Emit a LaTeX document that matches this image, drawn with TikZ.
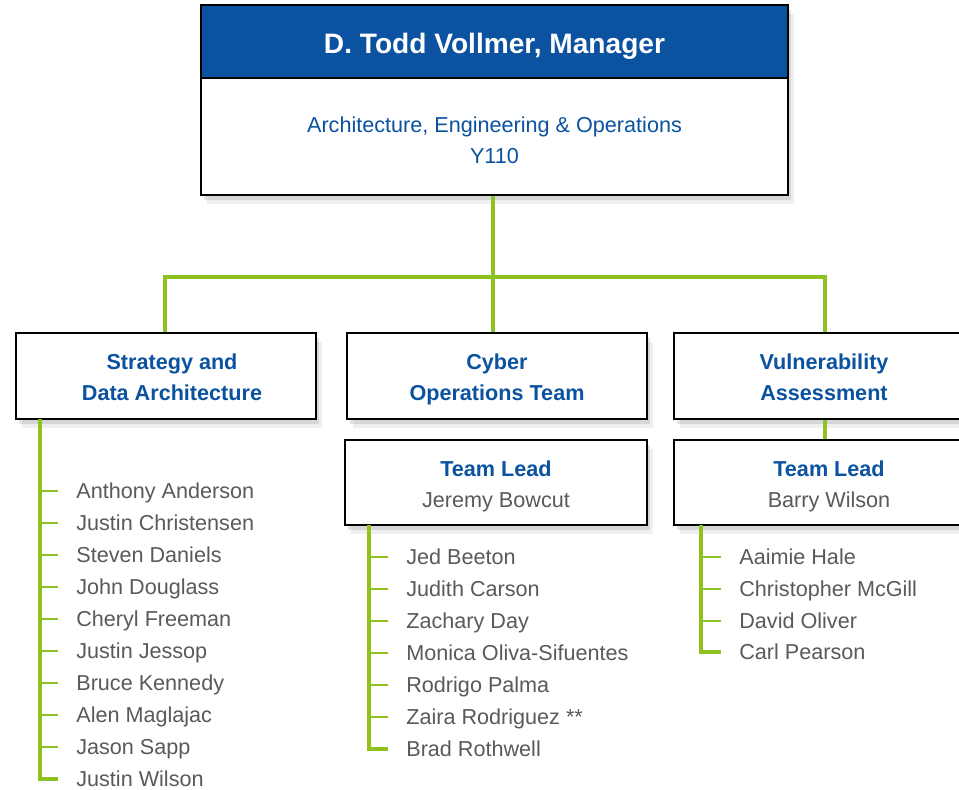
\documentclass[tikz,border=0pt]{standalone}
\usepackage{fontspec}
\setmainfont{Liberation Sans}
\usetikzlibrary{shadows}

\definecolor{aeoblue}{HTML}{0B52A0}
\definecolor{namegray}{HTML}{5A5A5A}
\definecolor{linkgreen}{HTML}{8DC21F}

\newcommand{\orgfont}{\fontsize{12.3}{17.6}\selectfont}
\newcommand{\mgrfont}{\fontsize{16}{19}\selectfont}
\newcommand{\rowstrut}{\rule[-2.5pt]{0pt}{15.5pt}}

\tikzset{
  softshadow/.style={drop shadow={shadow xshift=3.5pt,shadow yshift=-5pt,opacity=.12},
                     drop shadow={shadow xshift=1.8pt,shadow yshift=-2.8pt,opacity=.22}},
  box/.style={draw=black, line width=1.4pt, fill=white, softshadow, inner sep=0pt,
              align=center, font=\orgfont},
  unitbox/.style={box, minimum width=6cm, minimum height=1.72cm, text=aeoblue, font=\orgfont\bfseries},
  leadbox/.style={box, minimum height=1.7cm},
  member/.style={anchor=west, inner sep=0pt, text=namegray, font=\orgfont,
                 text height=11pt, text depth=2pt},
  link/.style={draw=linkgreen, line width=2.3pt},
  stem/.style={draw=linkgreen, line width=1.8pt},
  twig/.style={draw=linkgreen, line width=1.3pt}
}

\begin{document}
\begin{tikzpicture}[x=0.02cm, y=-0.02cm]
    \useasboundingbox[fill=white] (0,0) rectangle (959,789);

    % manager
    \node[box, minimum width=11.74cm, minimum height=3.8cm] (mgr) at (494.5,100) {};
    \node[draw=black, line width=1.4pt, fill=aeoblue, text=white, font=\mgrfont\bfseries,
          minimum width=11.74cm, minimum height=1.46cm, inner sep=0pt,
          text height=14pt, text depth=0.8pt] (title) at (494.5,41.5)
          {D. Todd Vollmer, Manager};
    \node[align=center, text=aeoblue, font=\orgfont, inner sep=0pt] (unit) at (494.5,140)
          {Architecture, Engineering \& Operations\\Y110};

    % teams
    \node[unitbox] (sda) at (166,376)
          {\hspace*{0.24cm}Strategy and\rowstrut\\\hspace*{0.24cm}Data Architecture\rowstrut};
    \node[unitbox] (cot) at (497,376) {Cyber\rowstrut\\Operations Team\rowstrut};
    \node[unitbox] (va) at (824,376) {Vulnerability\rowstrut\\Assessment\rowstrut};

    \node[leadbox, minimum width=6.04cm] (lead1) at (496,482.5)
          {\textcolor{aeoblue}{\bfseries Team Lead}\rowstrut\\\textcolor{namegray}{Jeremy Bowcut}\rowstrut};
    \node[leadbox, minimum width=6.2cm] (lead2) at (829,482.5)
          {\textcolor{aeoblue}{\bfseries Team Lead}\rowstrut\\\textcolor{namegray}{Barry Wilson}\rowstrut};

    \coordinate (hub) at (493,277);
    \coordinate (hubL) at (165,277);
    \coordinate (hubR) at (825,277);

    \draw[link] (mgr.south -| hub) -- (hub);
    \draw[link] (hubL |- sda.north) -- (hubL) -- (hubR) -- (hubR |- va.north);
    \draw[link] (hub) -- (hub |- cot.north);
    \draw[link] (hubR |- va.south) -- (hubR |- lead2.north);

    % strategy and data architecture
    \node[member] (s1) at (76,491) {Anthony Anderson};
    \node[member] (s2) at (76,523) {Justin Christensen};
    \node[member] (s3) at (76,555) {Steven Daniels};
    \node[member] (s4) at (76,587) {John Douglass};
    \node[member] (s5) at (76,619) {Cheryl Freeman};
    \node[member] (s6) at (76,651) {Justin Jessop};
    \node[member] (s7) at (76,683) {Bruce Kennedy};
    \node[member] (s8) at (76,715) {Alen Maglajac};
    \node[member] (s9) at (76,747) {Jason Sapp};
    \node[member] (s10) at (76,779) {Justin Wilson};

    \coordinate (sbar) at (40,419);
    \draw[stem] (sbar) -- (sbar |- s10) -- ++(18,0);
    \draw[twig] (sbar |- s1) -- ++(18,0) (sbar |- s2) -- ++(18,0) (sbar |- s3) -- ++(18,0)
                (sbar |- s4) -- ++(18,0) (sbar |- s5) -- ++(18,0) (sbar |- s6) -- ++(18,0)
                (sbar |- s7) -- ++(18,0) (sbar |- s8) -- ++(18,0) (sbar |- s9) -- ++(18,0);

    % cyber operations team
    \node[member] (c1) at (406,557) {Jed Beeton};
    \node[member] (c2) at (406,589) {Judith Carson};
    \node[member] (c3) at (406,621) {Zachary Day};
    \node[member] (c4) at (406,653) {Monica Oliva-Sifuentes};
    \node[member] (c5) at (406,685) {Rodrigo Palma};
    \node[member] (c6) at (406,717) {Zaira Rodriguez **};
    \node[member] (c7) at (406,749) {Brad Rothwell};

    \coordinate (cbar) at (369,525);
    \draw[stem] (cbar) -- (cbar |- c7) -- ++(19,0);
    \draw[twig] (cbar |- c1) -- ++(19,0) (cbar |- c2) -- ++(19,0) (cbar |- c3) -- ++(19,0)
                (cbar |- c4) -- ++(19,0) (cbar |- c5) -- ++(19,0) (cbar |- c6) -- ++(19,0);

    % vulnerability assessment
    \node[member] (v1) at (739,557) {Aaimie Hale};
    \node[member] (v2) at (739,589) {Christopher McGill};
    \node[member] (v3) at (739,621) {David Oliver};
    \node[member] (v4) at (739,652) {Carl Pearson};

    \coordinate (vbar) at (701,525);
    \draw[stem] (vbar) -- (vbar |- v4) -- ++(20,0);
    \draw[twig] (vbar |- v1) -- ++(20,0) (vbar |- v2) -- ++(20,0) (vbar |- v3) -- ++(20,0);

\end{tikzpicture}
\end{document}
